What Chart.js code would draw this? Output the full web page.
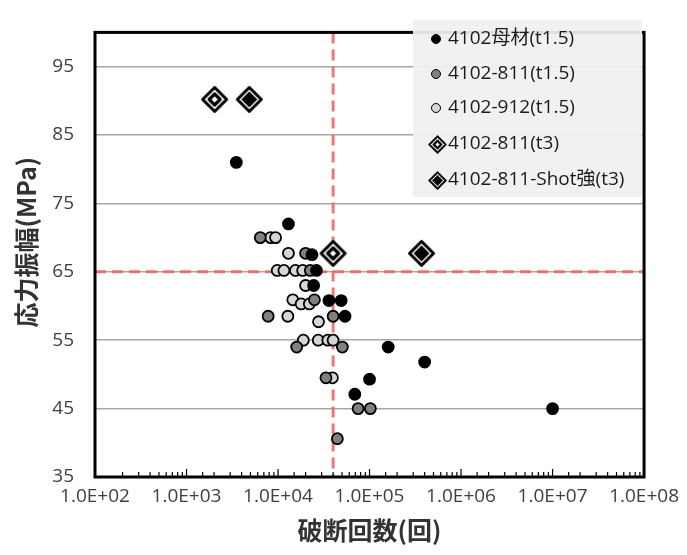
<!DOCTYPE html>
<html>
<head>
<meta charset="utf-8">
<script src="https://cdn.jsdelivr.net/npm/chart.js@4.4.0/dist/chart.umd.min.js"></script>
<style>
html, body { margin: 0; padding: 0; background: #fff; }
#wrap { width: 687px; height: 555px; }
</style>
</head>
<body>
<div id="wrap"><canvas id="snChart" width="687" height="555"></canvas></div>
<script>
// 軸の目盛りとタイトル
const xTickLabels = ['1.0E+02', '1.0E+03', '1.0E+04', '1.0E+05', '1.0E+06', '1.0E+07', '1.0E+08'];
const yTickLabels = ['35', '45', '55', '65', '75', '85', '95'];
const xTitle = '破断回数(回)';
const yTitle = '応力振幅(MPa)';

const seriesNames = ['4102母材(t1.5)', '4102-811(t1.5)', '4102-912(t1.5)', '4102-811(t3)', '4102-811-Shot強(t3)'];

// 破断回数 と 応力振幅
const base15N = [3500, 13000, 23500, 26300, 24500, 36000, 49000, 54000, 160000, 100000, 69000, 400000, 10000000];
const base15S = [81, 72, 67.5, 65.2, 63, 60.8, 60.8, 58.5, 54, 49.3, 47.1, 51.8, 45];

const s811N = [6400, 20000, 22500, 25000, 7800, 40000, 16000, 50500, 33400, 75000, 102000, 44500];
const s811S = [70, 67.7, 65.2, 60.9, 58.5, 58.5, 54, 54, 49.5, 45, 45, 40.6];

const s912N = [8300, 9400, 13000, 9800, 11600, 15500, 18600, 20000, 14500, 17900, 22000, 12800, 27700, 18900, 27500, 35000, 40000, 39300];
const s912S = [70, 70, 67.7, 65.2, 65.2, 65.2, 65.2, 63, 60.9, 60.3, 60.3, 58.5, 57.7, 55, 55, 55, 55, 49.5];

const t3N = [2030, 40000];
const t3S = [90.2, 67.7];

const shotN = [4850, 370000];
const shotS = [90.2, 67.7];

// 基準線
const limitN = 40000;
const limitS = 65;

function toPoints(xs, ys) {
    return xs.map(function(x, i) { return { x: x, y: ys[i] }; });
}

// 二重ひし形マーカー
function diamondImage(filled) {
    const size = 31;
    const c = document.createElement('canvas');
    c.width = size;
    c.height = size;
    const g = c.getContext('2d');
    const m = size / 2;
    function path(r) {
        g.beginPath();
        g.moveTo(m, m - r);
        g.lineTo(m + r, m);
        g.lineTo(m, m + r);
        g.lineTo(m - r, m);
        g.closePath();
    }
    g.lineJoin = 'round';
    path(12);
    g.fillStyle = '#fff';
    g.fill();
    g.lineWidth = 3;
    g.strokeStyle = '#000';
    g.stroke();
    if (filled) {
        path(8);
        g.fillStyle = '#000';
        g.fill();
    } else {
        path(5.5);
        g.lineWidth = 3.2;
        g.stroke();
    }
    return c;
}

const openDiamond = diamondImage(false);
const fullDiamond = diamondImage(true);

const textFont = '"Open Sans", "Noto Sans CJK JP", sans-serif';

// 赤い破線・枠・内向き目盛り・凡例
const decorPlugin = {
    id: 'decor',
    beforeDatasetsDraw: function(chart) {
        const ctx = chart.ctx;
        const area = chart.chartArea;
        const xs = chart.scales.x.getPixelForValue(limitN);
        const ys = chart.scales.y.getPixelForValue(limitS);
        ctx.save();
        ctx.strokeStyle = 'rgba(236, 104, 104, 0.9)';
        ctx.lineWidth = 3;
        ctx.setLineDash([11, 6]);
        ctx.beginPath();
        ctx.moveTo(area.left, ys);
        ctx.lineTo(area.right, ys);
        ctx.moveTo(xs, area.top);
        ctx.lineTo(xs, area.bottom);
        ctx.stroke();
        ctx.restore();
    },
    afterDatasetsDraw: function(chart) {
        const ctx = chart.ctx;
        const area = chart.chartArea;
        const xScale = chart.scales.x;
        ctx.save();
        // 下側の目盛り(内向き)
        ctx.strokeStyle = '#000';
        ctx.lineWidth = 1.2;
        xScale.ticks.forEach(function(t) {
            const px = xScale.getPixelForValue(t.value);
            const lg = Math.log10(t.value);
            const major = Math.abs(lg - Math.round(lg)) < 1e-6;
            ctx.beginPath();
            ctx.moveTo(px, area.bottom);
            ctx.lineTo(px, area.bottom - (major ? 8 : 5));
            ctx.stroke();
        });
        // 枠
        ctx.lineWidth = 3;
        ctx.strokeRect(area.left, area.top, area.right - area.left, area.bottom - area.top);

        // 凡例
        const lx = 413, ly = 20, lw = 229, lh = 177;
        ctx.fillStyle = 'rgba(240, 240, 240, 0.93)';
        ctx.fillRect(lx, ly, lw, lh);
        const rowY = [39, 74, 108, 144, 180];
        ctx.font = '19px ' + textFont;
        ctx.textBaseline = 'middle';
        ctx.textAlign = 'left';
        chart.data.datasets.forEach(function(ds, i) {
            const cy = rowY[i];
            if (ds.pointStyle === 'circle') {
                ctx.beginPath();
                ctx.arc(436, cy, 4.5, 0, Math.PI * 2);
                ctx.fillStyle = ds.pointBackgroundColor;
                ctx.fill();
                ctx.lineWidth = 1;
                ctx.strokeStyle = '#000';
                ctx.stroke();
            } else {
                ctx.drawImage(ds.pointStyle, 427, cy - 10, 21, 21);
            }
            ctx.fillStyle = '#1a1a1a';
            ctx.fillText(ds.label, 448, cy);
        });
        ctx.restore();
    }
};

function circleSet(label, xs, ys, fill) {
    return {
        label: label,
        data: toPoints(xs, ys),
        pointStyle: 'circle',
        pointRadius: 5.5,
        pointHoverRadius: 5.5,
        pointBackgroundColor: fill,
        pointBorderColor: '#000',
        pointBorderWidth: 1.8,
        showLine: false
    };
}

function diamondSet(label, xs, ys, img) {
    return {
        label: label,
        data: toPoints(xs, ys),
        pointStyle: img,
        pointRadius: 14,
        pointHoverRadius: 14,
        showLine: false
    };
}

const ctx = document.getElementById('snChart').getContext('2d');
const snChart = new Chart(ctx, {
    type: 'scatter',
    data: {
        datasets: [
            circleSet(seriesNames[0], base15N, base15S, '#000000'),
            circleSet(seriesNames[1], s811N, s811S, '#808080'),
            circleSet(seriesNames[2], s912N, s912S, '#d6d6d6'),
            diamondSet(seriesNames[3], t3N, t3S, openDiamond),
            diamondSet(seriesNames[4], shotN, shotS, fullDiamond)
        ]
    },
    options: {
        responsive: false,
        animation: false,
        devicePixelRatio: 1,
        layout: { padding: { top: 13, right: 37, left: 0, bottom: 0 } },
        plugins: {
            legend: { display: false },
            tooltip: { enabled: false }
        },
        scales: {
            x: {
                type: 'logarithmic',
                min: 100,
                max: 100000000,
                grid: { display: false, drawTicks: false },
                border: { display: false },
                ticks: {
                    autoSkip: false,
                    maxRotation: 0,
                    padding: 8,
                    color: '#404040',
                    font: { family: textFont, size: 19 },
                    callback: function(v) {
                        const lg = Math.log10(v);
                        if (Math.abs(lg - Math.round(lg)) > 1e-6) return '';
                        return xTickLabels[Math.round(lg) - 2] || '';
                    }
                },
                title: {
                    display: true,
                    text: xTitle,
                    color: '#333',
                    font: { family: '"Noto Sans CJK JP", sans-serif', size: 25, weight: 'bold' },
                    padding: { top: 0, bottom: 10 }
                },
                afterFit: function(scale) { scale.height = 78; }
            },
            y: {
                type: 'linear',
                min: 35,
                max: 100,
                grid: { color: '#a6a6a6', lineWidth: 1.5, drawTicks: false },
                border: { display: false },
                afterBuildTicks: function(scale) {
                    scale.ticks = yTickLabels.map(function(s) { return { value: Number(s) }; });
                },
                ticks: {
                    padding: 21,
                    color: '#404040',
                    font: { family: textFont, size: 19 },
                    callback: function(v) { return String(v); }
                },
                title: {
                    display: true,
                    // 先頭の空白で少し上に寄せる
                    text: '\u3000' + yTitle,
                    color: '#333',
                    font: { family: '"Noto Sans CJK JP", sans-serif', size: 25, weight: 'bold' },
                    padding: { top: 11, bottom: 0 }
                },
                afterFit: function(scale) { scale.width = 95; }
            }
        }
    },
    plugins: [decorPlugin]
});
</script>
</body>
</html>
